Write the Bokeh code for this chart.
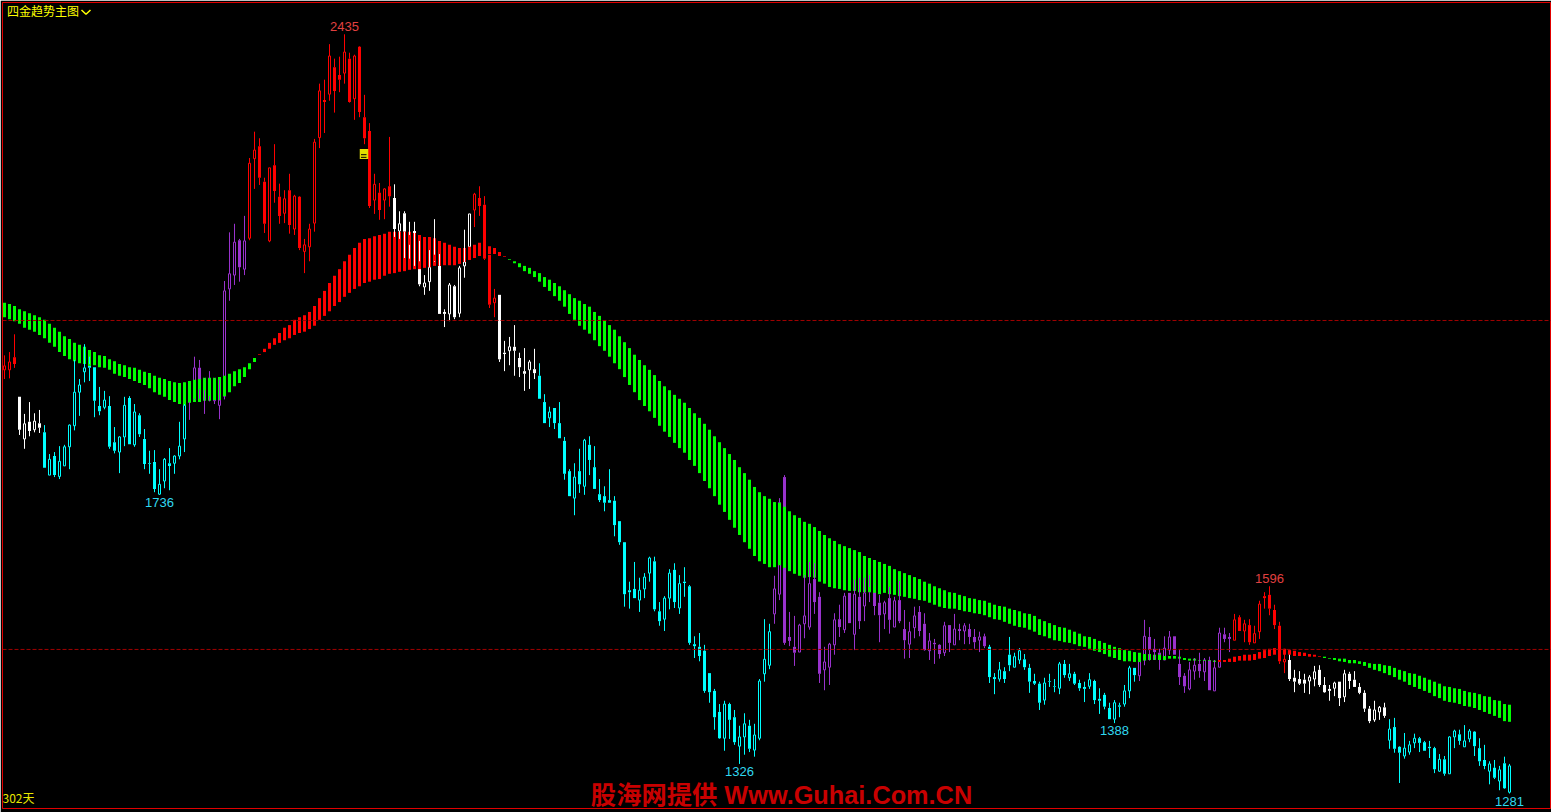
from bokeh.plotting import figure
from bokeh.models import Range1d, Span
from bokeh.core.properties import value
from bokeh.embed import file_html
from bokeh.resources import INLINE

highs = [1947,1952,1979,1884,1858,1876,1859,1864,1841,1797,
1800,1809,1811,1842,1940,1911,1964,1945,1929,1899,
1893,1885,1838,1824,1884,1885,1873,1859,1835,1802,
1803,1774,1791,1806,1795,1846,1873,1902,1945,1940,
1912,1923,1912,1910,2060,2134,2147,2124,2159,2247,
2287,2277,2217,2232,2268,2208,2198,2223,2191,2189,
2124,2147,2276,2360,2366,2420,2398,2401,2435,2407,
2404,2417,2343,2300,2223,2209,2201,2279,2207,2166,
2166,2150,2150,2121,2069,2107,2154,2101,2017,2057,
2054,2083,2138,2162,2194,2204,2189,2100,2048,2039,
1969,1975,1993,1951,1958,1940,1957,1935,1888,1869,
1867,1876,1823,1774,1783,1805,1820,1824,1809,1759,
1748,1774,1733,1695,1663,1603,1633,1609,1616,1641,
1641,1572,1581,1622,1631,1613,1625,1598,1520,1525,
1507,1464,1440,1417,1422,1419,1408,1384,1403,1393,
1387,1455,1546,1539,1612,1730,1765,1557,1551,1539,
1613,1633,1631,1587,1504,1510,1555,1568,1586,1586,
1606,1609,1609,1613,1600,1583,1574,1595,1580,1604,
1560,1542,1565,1566,1555,1525,1516,1508,1542,1537,
1554,1539,1540,1539,1531,1527,1524,1507,1464,1481,
1473,1519,1495,1502,1493,1478,1463,1451,1457,1463,
1455,1481,1484,1478,1466,1454,1451,1464,1454,1441,
1434,1419,1423,1419,1446,1475,1472,1491,1545,1534,
1516,1501,1520,1528,1520,1499,1464,1481,1487,1495,
1487,1489,1484,1533,1533,1525,1554,1552,1545,1546,
1536,1574,1587,1596,1568,1542,1501,1492,1469,1467,
1463,1461,1475,1476,1458,1446,1451,1451,1469,1466,
1467,1449,1438,1414,1422,1414,1419,1394,1396,1353,
1373,1361,1372,1367,1361,1361,1352,1341,1338,1368,
1378,1378,1385,1379,1376,1365,1355,1330,1332,1323,1337,1326]

body_tops = [1931,1937,1944,1884,1843,1846,1847,1844,1830,1789,
1794,1786,1808,1841,1891,1902,1928,1934,1929,1870,
1879,1870,1815,1823,1871,1882,1861,1856,1820,1783,
1785,1751,1789,1783,1794,1809,1871,1902,1928,1928,
1911,1912,1911,1879,2045,2071,2119,2122,2121,2239,
2259,2265,2211,2232,2236,2188,2185,2198,2189,2188,
2115,2139,2271,2349,2335,2402,2385,2373,2408,2398,
2402,2416,2309,2288,2207,2194,2200,2204,2186,2147,
2163,2130,2136,2090,2057,2081,2100,2083,2013,2054,
2052,2080,2089,2162,2192,2186,2176,2100,2034,2039,
1951,1960,1960,1943,1923,1937,1926,1916,1876,1861,
1867,1844,1817,1771,1762,1771,1818,1811,1777,1736,
1733,1727,1726,1695,1663,1590,1592,1590,1610,1639,
1634,1558,1578,1616,1621,1600,1603,1596,1508,1504,
1498,1464,1437,1405,1417,1417,1397,1367,1387,1384,
1370,1452,1485,1527,1592,1723,1762,1519,1504,1537,
1551,1600,1607,1580,1481,1508,1545,1546,1581,1586,
1584,1580,1586,1595,1599,1571,1571,1578,1574,1575,
1531,1527,1551,1557,1539,1513,1510,1507,1536,1537,
1531,1531,1536,1531,1519,1519,1520,1504,1458,1469,
1467,1492,1489,1498,1485,1472,1452,1448,1449,1452,
1444,1478,1478,1463,1463,1449,1443,1454,1452,1425,
1431,1411,1419,1415,1437,1472,1472,1491,1520,1519,
1501,1495,1502,1519,1520,1478,1460,1469,1476,1478,
1484,1484,1472,1525,1523,1519,1545,1549,1539,1537,
1524,1569,1581,1583,1560,1536,1485,1484,1457,1455,
1454,1458,1466,1469,1446,1440,1449,1451,1463,1463,
1454,1443,1434,1410,1408,1412,1412,1379,1382,1352,
1350,1355,1365,1365,1359,1352,1350,1333,1333,1367,
1376,1371,1361,1376,1375,1350,1332,1326,1320,1317,1327,1323]

body_bottoms = [1925,1925,1934,1834,1820,1832,1834,1837,1776,1765,
1765,1763,1779,1808,1840,1891,1922,1928,1878,1862,
1868,1808,1802,1800,1823,1812,1811,1827,1782,1782,
1744,1736,1756,1779,1783,1794,1820,1876,1881,1895,
1894,1885,1878,1871,1885,2048,2069,2081,2078,2125,
2246,2217,2147,2121,2197,2159,2163,2145,2139,2110,
2105,2112,2148,2278,2332,2344,2349,2366,2376,2332,
2337,2317,2277,2174,2183,2168,2183,2189,2139,2136,
2135,2115,2133,2055,2051,2059,2090,2010,2010,2010,
2005,2011,2083,2112,2168,2174,2094,2024,2027,1941,
1949,1954,1954,1929,1919,1925,1920,1881,1844,1852,
1844,1821,1767,1733,1730,1751,1748,1788,1744,1727,
1723,1723,1689,1663,1584,1587,1578,1575,1592,1616,
1561,1543,1546,1578,1572,1563,1601,1510,1505,1490,
1437,1435,1397,1365,1365,1393,1359,1353,1367,1349,
1347,1365,1463,1476,1554,1584,1510,1513,1495,1496,
1539,1534,1572,1463,1469,1473,1507,1534,1530,1540,
1523,1543,1566,1587,1566,1552,1554,1545,1534,1543,
1514,1508,1533,1528,1499,1498,1508,1493,1495,1510,
1507,1528,1528,1519,1511,1514,1505,1458,1455,1455,
1455,1476,1473,1484,1473,1451,1448,1419,1423,1451,
1443,1441,1461,1457,1448,1441,1440,1444,1423,1422,
1413,1394,1394,1413,1417,1437,1461,1460,1484,1499,
1496,1484,1484,1499,1492,1458,1444,1440,1467,1467,
1466,1438,1437,1473,1516,1516,1514,1528,1528,1511,
1510,1527,1578,1562,1537,1482,1481,1455,1451,1448,
1448,1452,1455,1446,1435,1437,1441,1426,1428,1452,
1443,1434,1410,1391,1393,1405,1399,1362,1349,1343,
1338,1344,1358,1358,1346,1350,1318,1315,1311,1311,
1367,1361,1352,1364,1353,1330,1323,1315,1305,1300,1289,1283]

lows = [1911,1912,1928,1826,1805,1824,1830,1829,1776,1765,
1762,1759,1779,1774,1833,1855,1906,1908,1853,1856,
1865,1805,1798,1768,1809,1812,1808,1823,1774,1767,
1739,1735,1745,1742,1767,1789,1800,1849,1879,1881,
1858,1877,1873,1850,1880,2030,2054,2059,2069,2122,
2200,2206,2133,2119,2179,2147,2148,2132,2130,2107,
2072,2090,2135,2262,2285,2334,2316,2347,2360,2331,
2305,2309,2268,2171,2162,2153,2154,2173,2127,2124,
2095,2094,2083,2052,2039,2045,2089,2010,1990,1999,
2002,2005,2065,2112,2142,2159,2092,2019,2005,1937,
1923,1932,1916,1914,1893,1896,1911,1881,1844,1838,
1835,1821,1758,1733,1704,1738,1735,1765,1744,1724,
1710,1723,1672,1659,1565,1562,1578,1557,1578,1603,
1558,1536,1528,1561,1563,1554,1580,1507,1487,1482,
1434,1419,1378,1364,1346,1364,1355,1326,1340,1344,
1337,1362,1451,1470,1539,1575,1507,1505,1475,1496,
1517,1530,1554,1449,1438,1446,1492,1519,1525,1540,
1499,1531,1543,1572,1552,1511,1531,1524,1534,1540,
1486,1487,1517,1520,1498,1484,1478,1486,1490,1496,
1507,1514,1508,1508,1501,1496,1502,1449,1432,1451,
1449,1467,1473,1478,1469,1434,1446,1408,1416,1443,
1435,1432,1457,1452,1446,1437,1420,1440,1417,1402,
1409,1394,1388,1397,1413,1426,1451,1452,1476,1483,
1484,1469,1484,1492,1492,1446,1434,1438,1454,1457,
1452,1438,1437,1473,1511,1496,1514,1528,1511,1507,
1510,1516,1562,1552,1531,1478,1464,1452,1435,1446,
1434,1432,1444,1443,1434,1422,1429,1414,1420,1440,
1443,1432,1405,1388,1390,1393,1396,1349,1343,1297,
1334,1340,1350,1344,1346,1335,1312,1314,1308,1311,
1350,1355,1352,1359,1338,1323,1318,1295,1303,1286,1288,1281]

# "1" = close above open (hollow candle), "0" = close below open (solid candle)
rising = ("1100101001" "0111111000" "1001101000" "0110111110" "1111111011"
          "1001001010" "1111010010" "1000101001" "0000110001" "0111100010"
          "0100010001" "0000101000" "0000000111" "0011010000" "0000100110"
          "1111110001" "1100111010" "1010001010" "0110010010" "1010010001"
          "0011000010" "0101000100" "0010110110" "0011000110" "1011001010"
          "1100001000" "0110001010" "0000110100" "1110000101" "101100010101")

ribbon_tops = [2027,2025,2022,2017,2014,2011,2008,2005,2001,1995,
1989,1983,1976,1972,1966,1963,1960,1955,1952,1947,
1946,1941,1938,1934,1932,1929,1928,1925,1922,1920,
1916,1913,1911,1908,1906,1905,1906,1908,1910,1911,
1913,1913,1913,1914,1916,1919,1923,1926,1929,1935,
1943,1949,1957,1966,1973,1981,1989,1993,2001,2005,
2008,2013,2022,2034,2045,2057,2068,2078,2090,2100,
2110,2118,2124,2125,2128,2130,2132,2135,2135,2135,
2135,2135,2133,2130,2127,2127,2125,2121,2118,2115,
2112,2110,2110,2112,2115,2118,2119,2113,2110,2104,
2098,2093,2090,2087,2083,2080,2075,2072,2066,2062,
2057,2052,2046,2040,2034,2030,2025,2021,2013,2007,
2000,1993,1986,1976,1967,1958,1948,1940,1932,1925,
1917,1908,1900,1894,1887,1881,1875,1867,1859,1852,
1843,1834,1824,1815,1806,1797,1788,1777,1768,1758,
1747,1739,1733,1729,1724,1723,1717,1710,1704,1700,
1694,1691,1686,1680,1674,1669,1665,1660,1657,1654,
1651,1648,1642,1639,1636,1633,1630,1627,1622,1619,
1616,1613,1610,1607,1603,1600,1596,1593,1590,1587,
1586,1583,1581,1578,1577,1575,1574,1571,1568,1566,
1565,1562,1560,1558,1555,1554,1551,1546,1543,1540,
1537,1534,1533,1530,1527,1524,1520,1519,1516,1513,
1510,1507,1504,1502,1499,1498,1496,1495,1493,1493,
1492,1492,1490,1490,1490,1489,1487,1486,1486,1484,
1484,1484,1483,1484,1484,1486,1489,1490,1492,1492,
1493,1496,1499,1501,1502,1501,1501,1499,1498,1496,
1495,1493,1492,1490,1489,1487,1487,1486,1486,1484,
1484,1482,1481,1479,1478,1478,1476,1475,1472,1469,
1467,1464,1463,1460,1457,1454,1451,1448,1444,1443,
1441,1440,1437,1435,1434,1432,1429,1428,1423,1422,1417,1416]

ribbon_bottoms = [2005,2002,1999,1995,1989,1986,1983,1978,1973,1966,
1960,1952,1946,1941,1938,1935,1934,1931,1932,1929,
1928,1925,1919,1916,1914,1911,1908,1905,1902,1897,
1891,1887,1884,1879,1876,1873,1871,1875,1876,1876,
1878,1878,1879,1879,1885,1891,1900,1905,1914,1926,
1937,1948,1952,1957,1963,1966,1970,1973,1978,1981,
1983,1987,1992,2001,2007,2014,2022,2028,2036,2042,
2048,2052,2057,2059,2062,2063,2068,2071,2072,2074,
2075,2077,2078,2078,2080,2081,2083,2083,2084,2084,
2084,2086,2089,2092,2095,2098,2101,2101,2101,2098,
2097,2092,2087,2081,2075,2071,2066,2059,2051,2045,
2037,2030,2021,2010,2001,1992,1986,1980,1970,1961,
1954,1945,1935,1926,1914,1902,1891,1879,1870,1862,
1852,1840,1831,1823,1814,1806,1799,1788,1779,1768,
1756,1745,1733,1720,1709,1697,1685,1674,1663,1653,
1642,1634,1630,1625,1625,1628,1624,1619,1615,1612,
1609,1610,1609,1603,1600,1595,1593,1592,1590,1589,
1589,1587,1587,1587,1586,1584,1586,1584,1583,1581,
1580,1578,1577,1575,1574,1571,1568,1565,1563,1562,
1562,1560,1558,1557,1555,1554,1552,1549,1546,1545,
1542,1539,1536,1534,1533,1530,1527,1522,1520,1517,
1514,1513,1511,1510,1508,1505,1504,1501,1498,1496,
1493,1489,1487,1484,1482,1482,1481,1481,1483,1484,
1484,1484,1484,1486,1486,1486,1484,1483,1483,1483,
1483,1483,1481,1481,1481,1481,1481,1483,1483,1483,
1484,1486,1487,1490,1492,1492,1492,1492,1490,1490,
1490,1489,1489,1489,1487,1486,1484,1482,1481,1479,
1479,1478,1475,1472,1469,1467,1464,1461,1458,1454,
1451,1446,1443,1440,1437,1434,1429,1426,1422,1420,
1419,1417,1414,1413,1411,1408,1405,1402,1399,1396,1391,1390]

RED, WHITE, CYAN, PURPLE, GREEN = "#ff0000", "#ffffff", "#00ffff", "#9932cc", "#00ff00"
candle_runs = [(RED,3),(WHITE,5),(CYAN,29),(PURPLE,12),(RED,29),(WHITE,16),(RED,5),(WHITE,8),
               (CYAN,47),(PURPLE,43),(CYAN,30),(PURPLE,19),(RED,11),(WHITE,20),(CYAN,25)]
ribbon_runs = [(GREEN,51),(RED,50),(GREEN,142),(RED,21),(GREEN,38)]

peak_days = [68, 253]
peak_labels = ["2435", "1596"]
trough_days = [31, 147, 222, 301]
trough_labels = ["1736", "1326", "1388", "1281"]
guide_levels = [2000, 1500]

n = len(highs)
assert all(len(a) == n for a in (body_tops, body_bottoms, lows, ribbon_tops, ribbon_bottoms)) and len(rising) == n == 302
days = list(range(n))
candle_colors = [c for c, k in candle_runs for _ in range(k)]
ribbon_colors = [c for c, k in ribbon_runs for _ in range(k)]
assert len(candle_colors) == n and len(ribbon_colors) == n

p = figure(width=1551, height=812, output_backend="svg", toolbar_location=None,
           x_range=Range1d(-0.4, 309.4), y_range=Range1d(1258.24, 2483.34),
           min_border_left=2, min_border_top=2, min_border_right=0, min_border_bottom=4,
           background_fill_color="#000000", border_fill_color="#000000",
           outline_line_color="#e00000", outline_line_width=1)
p.styles = {"position": "absolute", "left": "0px", "top": "0px"}
p.xaxis.visible = False
p.yaxis.visible = False
p.grid.visible = False

for lvl in guide_levels:
    p.add_layout(Span(location=lvl, dimension="width", line_color="#a00000", line_width=1, line_dash="4 2"))

# solid bodies
si = [i for i in days if rising[i] == "0"]
p.quad(left=[i - 0.3 for i in si], right=[i + 0.3 for i in si],
       top=[body_tops[i] for i in si], bottom=[body_bottoms[i] for i in si],
       fill_color=[candle_colors[i] for i in si], line_color=None)
# hollow bodies
hi = [i for i in days if rising[i] == "1"]
p.quad(left=[i - 0.2 for i in hi], right=[i + 0.2 for i in hi],
       top=[body_tops[i] for i in hi], bottom=[body_bottoms[i] for i in hi],
       fill_color="#000000", line_color=[candle_colors[i] for i in hi], line_width=1)
# average ribbon
p.quad(left=[i - 0.3 for i in days], right=[i + 0.3 for i in days],
       top=ribbon_tops, bottom=ribbon_bottoms, fill_color=ribbon_colors, line_color=None)
# wicks
p.segment(x0=days, x1=days, y0=highs, y1=body_tops, line_color=candle_colors, line_width=1)
p.segment(x0=days, x1=days, y0=body_bottoms, y1=lows, line_color=candle_colors, line_width=1)

# note marker
p.rect(x=[71.9], y=[2253], width=1.7, height=15, fill_color="#e0e000", line_color=None)
p.segment(x0=[71.3, 71.3], x1=[72.4, 72.4], y0=[2252, 2248], y1=[2252, 2248], line_color="#000000", line_width=1)

# extreme labels
p.text(x=peak_days, y=[highs[i] for i in peak_days], text=peak_labels, text_color="#e04040",
       text_font=value("Liberation Sans"), text_font_size="13px", text_align="center",
       text_baseline="bottom", y_offset=-3)
p.text(x=trough_days, y=[lows[i] for i in trough_days], text=trough_labels, text_color="#30d8f0",
       text_font=value("Liberation Sans"), text_font_size="13px", text_align="center",
       text_baseline="top", y_offset=3)

# texts
p.text(x=[0.5], y=[2471.5], text=["四金趋势主图"], text_color="#ffff00",
       text_font=value("Noto Sans CJK SC"), text_font_size="12px", text_baseline="middle")
p.line(x=[15.4, 16.3, 17.2], y=[2472, 2465.5, 2472], line_color="#ffff00", line_width=1.5)
p.text(x=[-0.4], y=[1274.5], text=["302天"], text_color="#e8e800",
       text_font=value("Noto Sans CJK SC"), text_font_size="12px", text_baseline="middle")
p.text(x=[155.4], y=[1278], text=["股海网提供 Www.Guhai.Com.CN"], text_color="#c80000",
       text_font=value("Liberation Sans, Noto Sans CJK SC"), text_font_size="25.3px", text_font_style="bold",
       text_align="center", text_baseline="middle")

open("out.html", "w").write(file_html(p, INLINE))
